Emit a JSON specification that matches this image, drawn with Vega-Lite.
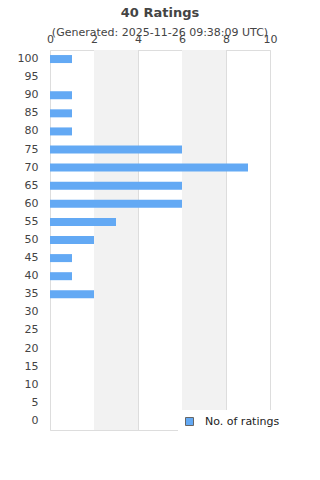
{
  "$schema": "https://vega.github.io/schema/vega-lite/v6.json",
  "width": 220,
  "height": 380,
  "autosize": "none",
  "padding": {"left": 50, "top": 50, "right": 50, "bottom": 50},
  "background": "white",
  "config": {
    "font": "DejaVu Sans",
    "view": {"stroke": "#dddddd"},
    "axis": {"labelFont": "DejaVu Sans", "labelColor": "#444444"}
  },
  "title": {
    "text": "40 Ratings",
    "subtitle": "(Generated: 2025-11-26 09:38:09 UTC)",
    "fontSize": 13,
    "fontWeight": "bold",
    "color": "#444444",
    "subtitleFontSize": 11,
    "subtitleColor": "#444444",
    "subtitlePadding": 7,
    "offset": -5,
    "anchor": "middle"
  },
  "layer": [
    {
      "data": {"values": [{"start": 2, "end": 4}, {"start": 6, "end": 8}]},
      "mark": {"type": "rect", "color": "#f2f2f2"},
      "encoding": {
        "x": {"field": "start", "type": "quantitative", "scale": {"domain": [0, 10]}},
        "x2": {"field": "end"}
      }
    },
    {
      "data": {"values": [
        {"rating": 100, "count": 1}, {"rating": 95, "count": 0}, {"rating": 90, "count": 1},
        {"rating": 85, "count": 1}, {"rating": 80, "count": 1}, {"rating": 75, "count": 6},
        {"rating": 70, "count": 9}, {"rating": 65, "count": 6}, {"rating": 60, "count": 6},
        {"rating": 55, "count": 3}, {"rating": 50, "count": 2}, {"rating": 45, "count": 1},
        {"rating": 40, "count": 1}, {"rating": 35, "count": 2}, {"rating": 30, "count": 0},
        {"rating": 25, "count": 0}, {"rating": 20, "count": 0}, {"rating": 15, "count": 0},
        {"rating": 10, "count": 0}, {"rating": 5, "count": 0}, {"rating": 0, "count": 0}
      ]},
      "mark": {"type": "bar", "size": 8},
      "encoding": {
        "y": {
          "field": "rating", "type": "ordinal", "sort": "descending",
          "axis": {"title": null, "ticks": false, "domain": false, "labelFontSize": 11, "labelPadding": 12}
        },
        "x": {
          "field": "count", "type": "quantitative",
          "scale": {"domain": [0, 10]},
          "axis": {"orient": "top", "title": null, "values": [0, 2, 4, 6, 8, 10], "ticks": false, "domain": false,
                   "grid": true, "gridColor": "#dddddd", "labelFontSize": 11, "labelPadding": 6, "labelFlush": false}
        },
        "color": {
          "datum": "No. of ratings",
          "type": "nominal",
          "scale": {"range": ["#63a9f4"]},
          "legend": {
            "title": null, "orient": "none", "legendX": 128, "legendY": 360,
            "fillColor": "white", "padding": 6, "symbolType": "square", "symbolSize": 64,
            "symbolStrokeColor": "#666666", "symbolStrokeWidth": 1, "labelFontSize": 11, "labelColor": "#222222", "labelOffset": 10
          }
        }
      }
    }
  ]
}
